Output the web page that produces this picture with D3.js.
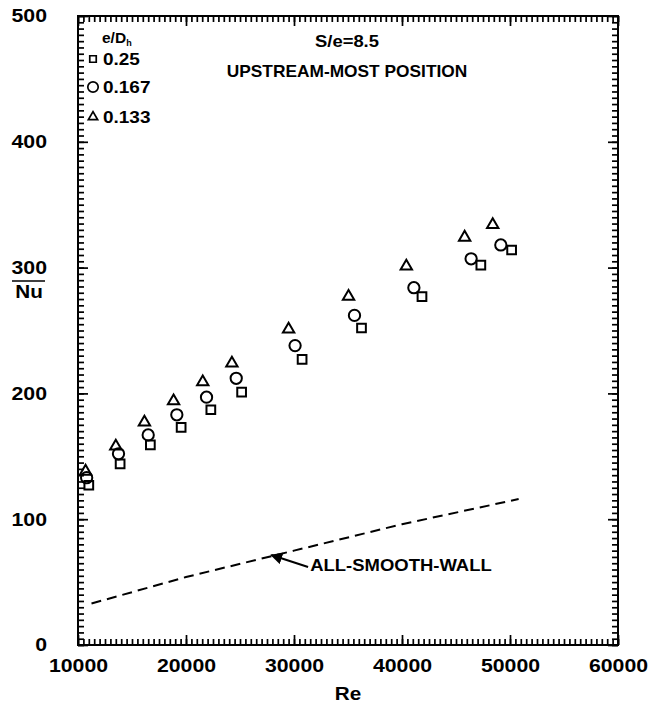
<!DOCTYPE html>
<html lang="en">
<head>
<meta charset="utf-8">
<title>Nu vs Re - upstream-most position</title>
<script src="https://cdn.jsdelivr.net/npm/d3@7"></script>
<style>
  body { margin: 0; background: #fff; }
  svg text { font-family: "Liberation Sans", Arial, Helvetica, sans-serif; font-weight: bold; fill: #000; }
</style>
</head>
<body>
<script>
// data
var ratios = ["0.25", "0.167", "0.133"];
var symbols = ["square", "circle", "triangle"];

var re25  = [11000, 13900, 16700, 19550, 22300, 25150, 30750, 36250, 41850, 47300, 50150];
var nu25  = [127, 144, 159, 173, 187, 201, 227, 252, 277, 302, 314];
var re167 = [10800, 13750, 16500, 19150, 21900, 24650, 30100, 35600, 41100, 46400, 49150];
var nu167 = [133, 152, 167, 183, 197, 212, 238, 262, 284, 307, 318];
var re133 = [10700, 13500, 16150, 18850, 21550, 24250, 29500, 35050, 40400, 45800, 48400];
var nu133 = [138, 158, 177, 194, 209, 224, 251, 277, 301, 324, 334];

var smoothRe = [11250, 20000, 30000, 40000, 50800];
var smoothNu = [33, 54, 75, 96, 116];

var xTicks = [10000, 20000, 30000, 40000, 50000, 60000];
var yTicks = [0, 100, 200, 300, 400, 500];

var W = 658, H = 709;
var margin = {top: 16, right: 40, bottom: 64, left: 78};
var width = W - margin.left - margin.right;
var height = H - margin.top - margin.bottom;
var stretch = 1.15; // scanned lettering is wider than the installed fonts

var svg = d3.select("body").append("svg")
  .attr("width", W)
  .attr("height", H);
var g = svg.append("g")
  .attr("transform", "translate(" + margin.left + "," + margin.top + ")");

var x = d3.scaleLinear().domain([10000, 60000]).range([0, width]);
var y = d3.scaleLinear().domain([0, 500]).range([height, 0]);

// frame
g.append("rect")
  .attr("width", width).attr("height", height)
  .attr("fill", "none").attr("stroke", "#000").attr("stroke-width", 2);

// inward ticks on all four sides, minor then major
var xMinor = d3.range(10000, 60001, 500);
var yMinor = d3.range(0, 501, 5);

function ink(sel) {
  sel.select(".domain").remove();
  sel.selectAll(".tick line").attr("stroke", "#000").attr("stroke-width", 1.7);
}
function sides(vals, len, fmtX, fmtY) {
  g.append("g").attr("transform", "translate(0," + height + ")")
    .call(d3.axisBottom(x).tickValues(vals.x).tickSize(-len).tickFormat("")).call(ink);
  g.append("g")
    .call(d3.axisTop(x).tickValues(vals.x).tickSize(-len).tickFormat("")).call(ink);
  g.append("g")
    .call(d3.axisLeft(y).tickValues(vals.y).tickSize(-len).tickFormat("")).call(ink);
  g.append("g").attr("transform", "translate(" + width + ",0)")
    .call(d3.axisRight(y).tickValues(vals.y).tickSize(-len).tickFormat("")).call(ink);
}
sides({x: xMinor, y: yMinor}, 6);
sides({x: xTicks, y: yTicks}, 10);

// tick labels
var xAxis = g.append("g").attr("transform", "translate(0," + height + ")")
  .call(d3.axisBottom(x).tickValues(xTicks).tickSize(0).tickPadding(14).tickFormat(d3.format("d")));
xAxis.select(".domain").remove();
xAxis.selectAll("text")
  .style("font-size", "18.5px")
  .attr("transform", "scale(" + stretch + ",1)")
  .attr("x", 0);

var yAxis = g.append("g")
  .call(d3.axisLeft(y).tickValues(yTicks).tickSize(0).tickFormat(d3.format("d")));
yAxis.select(".domain").remove();
yAxis.selectAll("text")
  .style("font-size", "18.5px")
  .attr("x", 0)
  .attr("transform", "translate(-31,0) scale(" + stretch + ",1)");

// smooth wall reference line
var line = d3.line().x(function(d) { return x(d[0]); }).y(function(d) { return y(d[1]); });
g.append("path")
  .datum(d3.zip(smoothRe, smoothNu))
  .attr("d", line)
  .attr("fill", "none")
  .attr("stroke", "#000")
  .attr("stroke-width", 2)
  .attr("stroke-dasharray", "10,6");

// arrow + annotation
svg.append("defs").append("marker")
  .attr("id", "arrow")
  .attr("viewBox", "0 0 10 10")
  .attr("refX", 9).attr("refY", 5)
  .attr("markerWidth", 6).attr("markerHeight", 6)
  .attr("orient", "auto")
  .append("path").attr("d", "M0,0L10,5L0,10z").attr("fill", "#000");
g.append("line")
  .attr("x1", x(31300)).attr("y1", y(62))
  .attr("x2", x(27900)).attr("y2", y(71.5))
  .attr("stroke", "#000").attr("stroke-width", 2)
  .attr("marker-end", "url(#arrow)");
g.append("text")
  .attr("transform", "translate(" + x(31500) + "," + y(58.8) + ") scale(1.12,1)")
  .style("font-size", "16.5px")
  .text("ALL-SMOOTH-WALL");

// data symbols
var sym = {
  square: d3.symbol().type(d3.symbolSquare).size(76),
  circle: d3.symbol().type(d3.symbolCircle).size(100),
  triangle: d3.symbol().type(d3.symbolTriangle).size(56)
};
var seriesList = [
  {key: ratios[0], shape: symbols[0], re: re25, nu: nu25},
  {key: ratios[1], shape: symbols[1], re: re167, nu: nu167},
  {key: ratios[2], shape: symbols[2], re: re133, nu: nu133}
];
seriesList.forEach(function(s) {
  g.append("g").selectAll("path")
    .data(d3.zip(s.re, s.nu))
    .enter().append("path")
    .attr("transform", function(d) { return "translate(" + x(d[0]) + "," + y(d[1]) + ")"; })
    .attr("d", sym[s.shape]())
    .attr("fill", "none")
    .attr("stroke", "#000")
    .attr("stroke-width", 2);
});

// legend
var legend = svg.append("g").attr("transform", "translate(92,0)");
var lt = legend.append("text").attr("x", 10).attr("y", 43).style("font-size", "15.5px");
lt.append("tspan").text("e/D");
lt.append("tspan").attr("dy", 3).style("font-size", "9px").text("h");
var legSym = {
  square: d3.symbol().type(d3.symbolSquare).size(42),
  circle: d3.symbol().type(d3.symbolCircle).size(85),
  triangle: d3.symbol().type(d3.symbolTriangle).size(38)
};
var legY = [59, 87, 117];
seriesList.forEach(function(s, i) {
  legend.append("path")
    .attr("transform", "translate(1," + legY[i] + ")")
    .attr("d", legSym[s.shape]())
    .attr("fill", "none").attr("stroke", "#000").attr("stroke-width", 1.7);
  legend.append("text")
    .attr("transform", "translate(11," + (legY[i] + 6) + ") scale(" + stretch + ",1)")
    .style("font-size", "16.5px")
    .text(s.key);
});

// titles
svg.append("text")
  .attr("transform", "translate(347,47) scale(" + stretch + ",1)")
  .attr("text-anchor", "middle")
  .style("font-size", "16px")
  .text("S/e=8.5");
svg.append("text")
  .attr("transform", "translate(347,77) scale(1.05,1)")
  .attr("text-anchor", "middle")
  .style("font-size", "16.5px")
  .text("UPSTREAM-MOST POSITION");

// axis titles
svg.append("text")
  .attr("transform", "translate(" + (margin.left + width / 2) + ",700) scale(" + stretch + ",1)")
  .attr("text-anchor", "middle")
  .style("font-size", "18px")
  .text("Re");
svg.append("text")
  .attr("transform", "translate(29,298) scale(" + stretch + ",1)")
  .attr("text-anchor", "middle")
  .style("font-size", "18px")
  .text("Nu");
svg.append("line")
  .attr("x1", 12).attr("x2", 45).attr("y1", 281).attr("y2", 281)
  .attr("stroke", "#000").attr("stroke-width", 1.6);
</script>
</body>
</html>
